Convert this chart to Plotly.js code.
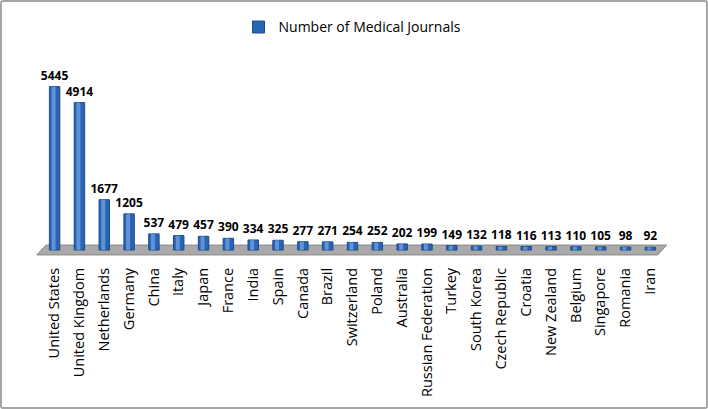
<!DOCTYPE html>
<html>
<head>
<meta charset="utf-8">
<script src="https://cdn.plot.ly/plotly-3.0.1.min.js"></script>
<style>
html,body{margin:0;padding:0;background:#fff;}
#wrap{position:relative;width:708px;height:409px;}
#chart{width:708px;height:409px;}
#frame{position:absolute;left:0;top:0;width:704px;height:405px;border:2px solid #a6a6a6;border-radius:3px;pointer-events:none;}
</style>
</head>
<body>
<div id="wrap"><div id="chart"></div><div id="frame"></div></div>
<script>
const countries = ["United States","United Kingdom","Netherlands","Germany","China","Italy","Japan","France","India","Spain","Canada","Brazil","Switzerland","Poland","Australia","Russian Federation","Turkey","South Korea","Czech Republic","Croatia","New Zealand","Belgium","Singapore","Romania","Iran"];
const journals = [5445,4914,1677,1205,537,479,457,390,334,325,277,271,254,252,202,199,149,132,118,116,113,110,105,98,92];
const seriesName = "Number of Medical Journals";

const idx = countries.map((_, i) => i);

const main = {
  type: 'bar', x: idx, y: journals, name: seriesName,
  width: 0.42,
  marker: {color: '#2a64b4', line: {color: '#1c4a8a', width: 1}},
  text: journals.map(String), textposition: 'outside', cliponaxis: false,
  constraintext: 'none',
  textfont: {family: 'Open Sans', size: 12, color: '#000', weight: 'bold'},
  hoverinfo: 'x+y'
};
const shine = {
  type: 'bar', x: idx, y: journals, showlegend: false,
  width: 0.16, offset: -0.12,
  marker: {color: 'rgba(140,185,240,0.55)', line: {width: 0}},
  hoverinfo: 'skip'
};

const layout = {
  width: 708, height: 409,
  margin: {l: 36, r: 39, t: 74, b: 153},
  paper_bgcolor: '#ffffff', plot_bgcolor: 'rgba(0,0,0,0)',
  barmode: 'overlay',
  showlegend: true,
  legend: {orientation: 'h', x: 0.5, xanchor: 'center', y: 1.27, yanchor: 'middle',
           itemwidth: 30,
           font: {family: 'Open Sans', size: 14, color: '#000'}},
  xaxis: {range: [-0.75, 24.75], tickvals: idx, ticktext: countries, tickangle: -90,
          showgrid: false, zeroline: false, showline: false, ticks: '',
          ticklabelstandoff: 8,
          tickfont: {family: 'Open Sans', size: 14.5, color: '#000'}},
  yaxis: {range: [-200, 5800], visible: false, showgrid: false, zeroline: false},
  shapes: [{
    type: 'path', xref: 'x', yref: 'y', layer: 'below',
    path: 'M -0.72,-165 L -0.35,165 L 24.65,165 L 24.3,-165 Z',
    fillcolor: '#a9a9a9', line: {color: '#8a8a8a', width: 1}
  }]
};

Plotly.newPlot('chart', [main, shine], layout, {displayModeBar: false, staticPlot: true});
</script>
</body>
</html>
